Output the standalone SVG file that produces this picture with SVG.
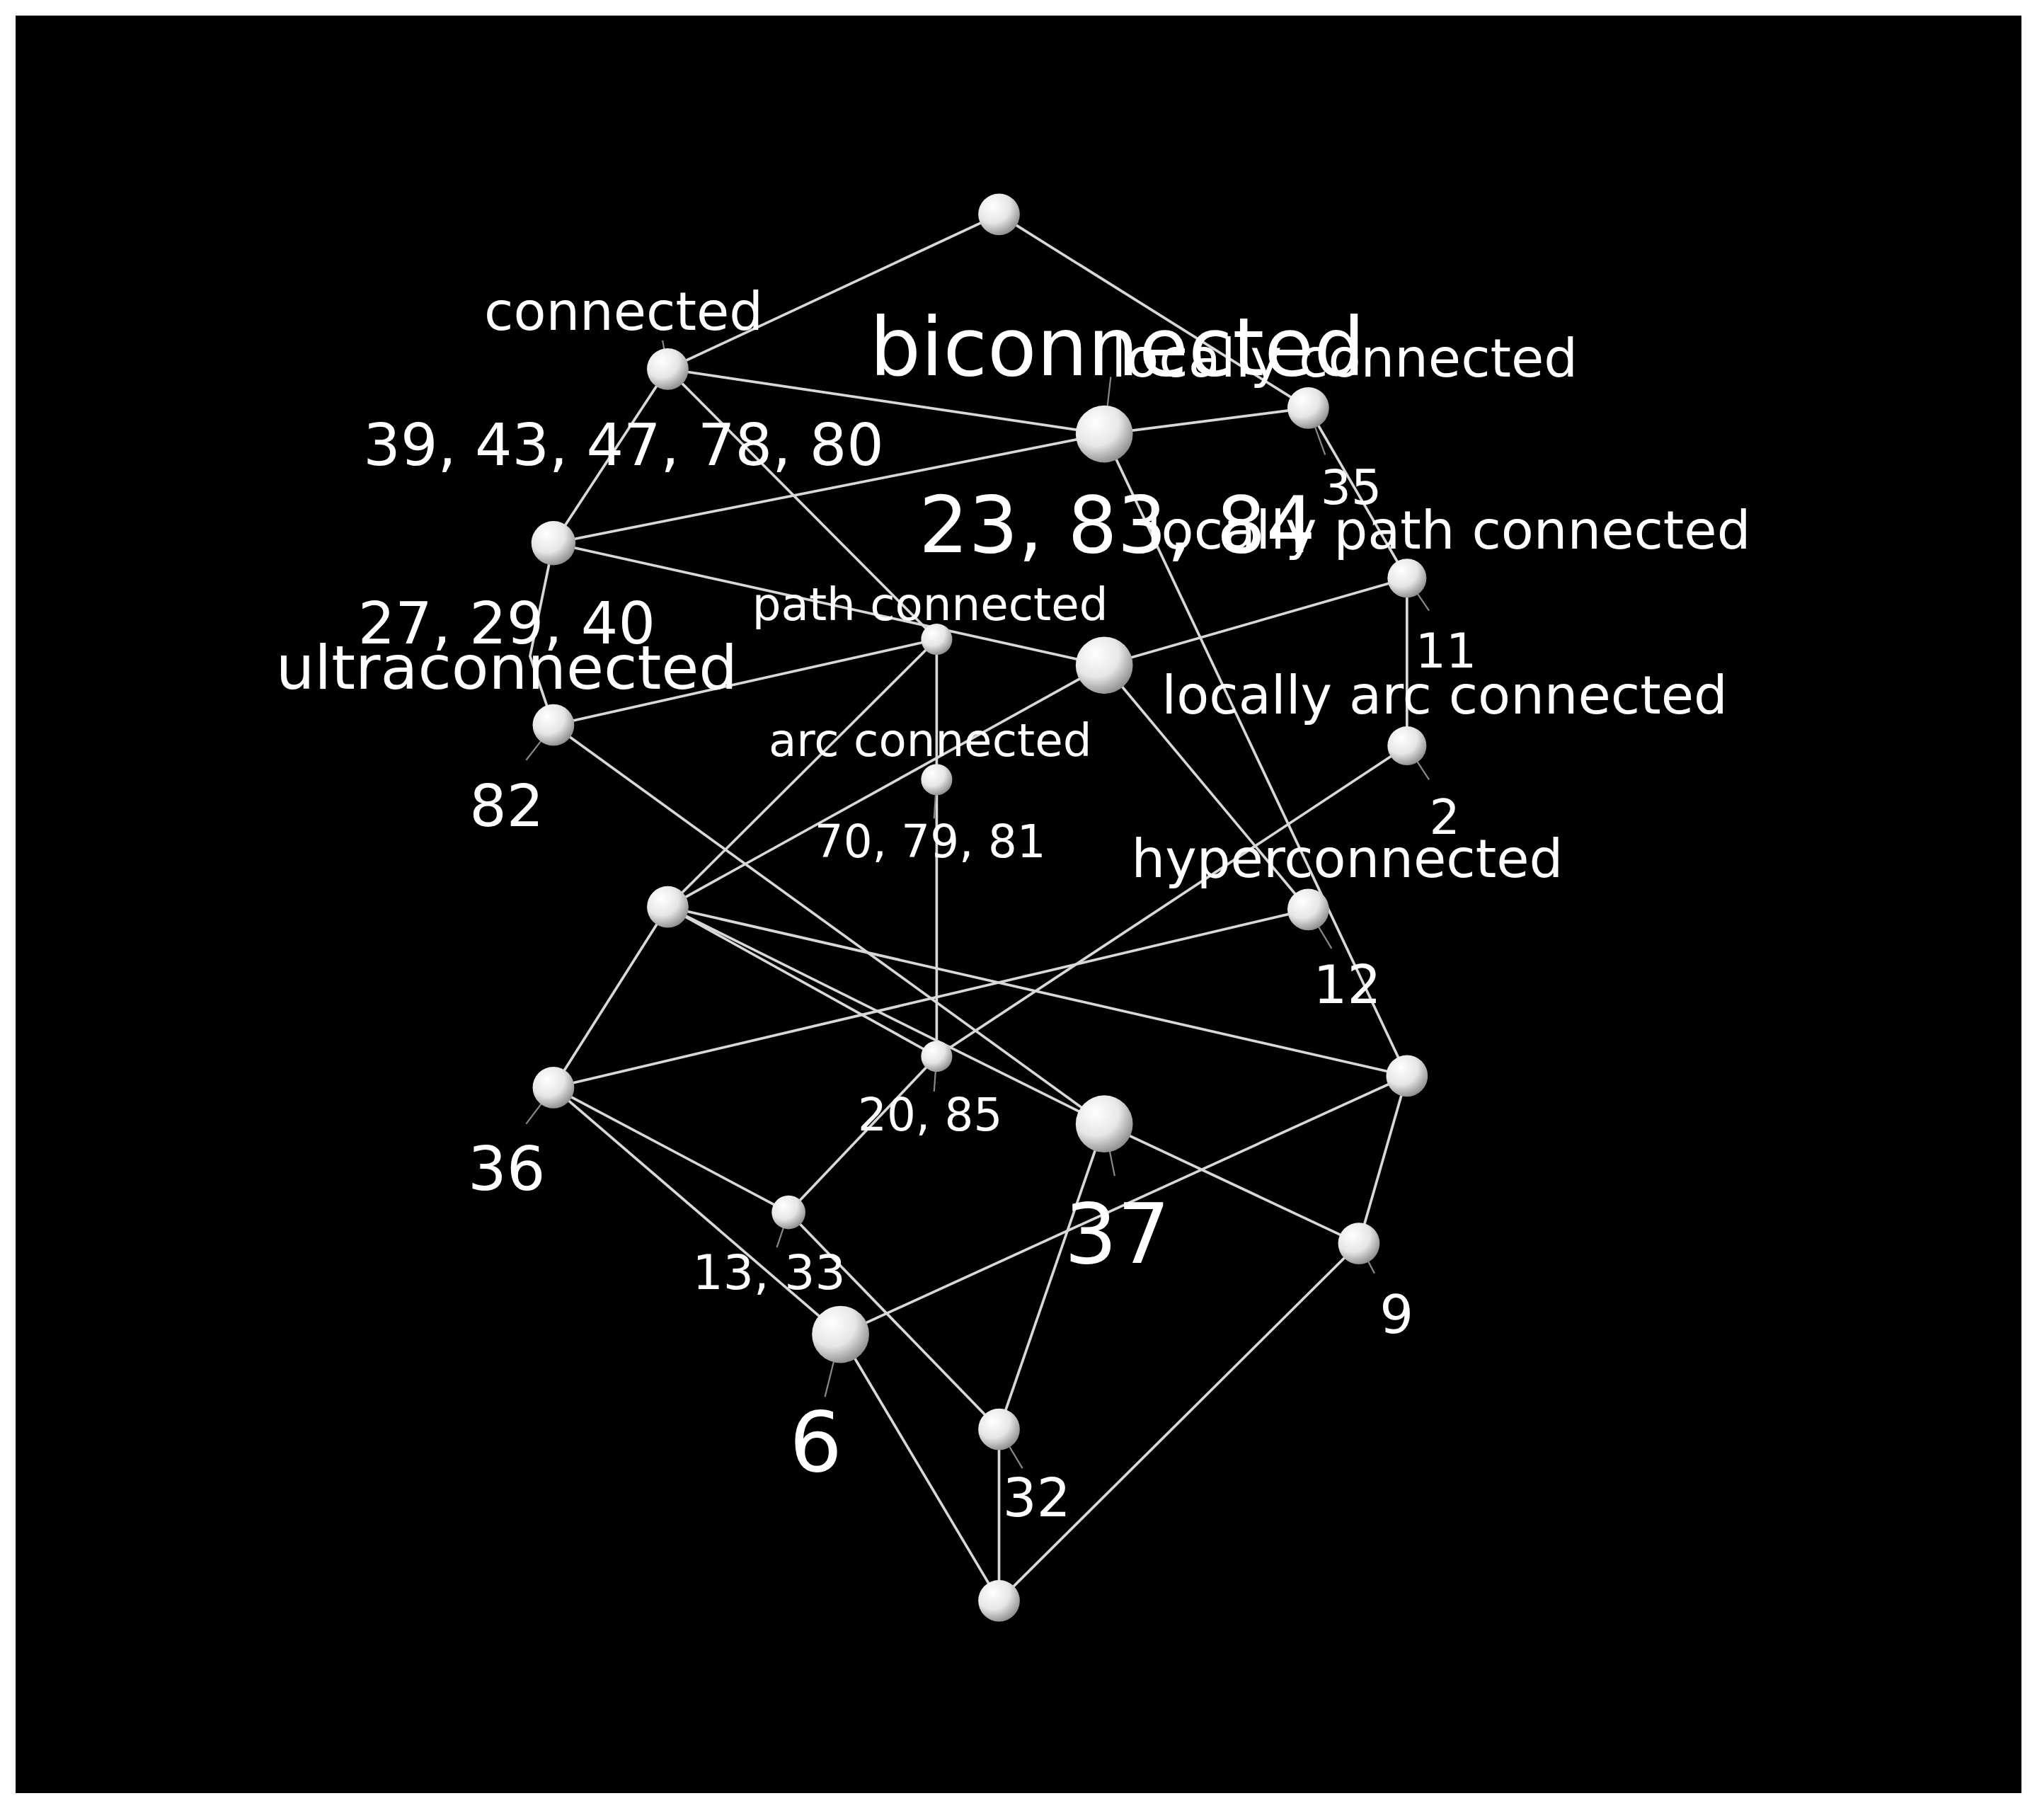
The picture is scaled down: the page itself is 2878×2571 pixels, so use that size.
<svg xmlns="http://www.w3.org/2000/svg" width="2878" height="2571" viewBox="0 0 2878 2571">
<defs>
<radialGradient id="sph" cx="0.35" cy="0.3" r="0.75">
<stop offset="0" stop-color="#ffffff"/><stop offset="0.55" stop-color="#e6e6e6"/><stop offset="1" stop-color="#8a8a8a"/>
</radialGradient>
</defs>
<style>
.e{stroke:#d8d8d8;stroke-width:2;fill:none}
.l{stroke:#888;stroke-width:1.2;fill:none}
.n{fill:url(#sph)}
text{fill:#ffffff;font-family:"DejaVu Sans",sans-serif;text-anchor:middle}
</style>
<rect width="2878" height="2571" fill="#ffffff"/>
<g transform="scale(1.8355)">
<rect x="12" y="12" width="1544" height="1368" fill="#000"/>
<g id="edges">
<line class="e" x1="769" y1="165" x2="514" y2="284"/>
<line class="e" x1="769" y1="165" x2="1007" y2="314"/>
<line class="e" x1="514" y1="284" x2="850" y2="334"/>
<line class="e" x1="514" y1="284" x2="426" y2="418"/>
<line class="e" x1="514" y1="284" x2="721" y2="492"/>
<line class="e" x1="850" y1="334" x2="1007" y2="314"/>
<line class="e" x1="850" y1="334" x2="426" y2="418"/>
<line class="e" x1="850" y1="334" x2="1083" y2="828"/>
<line class="e" x1="1007" y1="314" x2="1083" y2="445"/>
<line class="e" x1="426" y1="418" x2="850" y2="512"/>
<path class="e" d="M426 418 L408 505 L426 558"/>
<line class="e" x1="1083" y1="445" x2="1083" y2="574"/>
<line class="e" x1="1083" y1="445" x2="850" y2="512"/>
<line class="e" x1="721" y1="492" x2="426" y2="558"/>
<line class="e" x1="721" y1="492" x2="721" y2="600"/>
<line class="e" x1="721" y1="492" x2="514" y2="698"/>
<line class="e" x1="850" y1="512" x2="514" y2="698"/>
<line class="e" x1="850" y1="512" x2="1007" y2="700"/>
<line class="e" x1="426" y1="558" x2="850" y2="865"/>
<line class="e" x1="1083" y1="574" x2="721" y2="813"/>
<line class="e" x1="721" y1="600" x2="721" y2="813"/>
<line class="e" x1="514" y1="698" x2="426" y2="837"/>
<line class="e" x1="514" y1="698" x2="1083" y2="828"/>
<line class="e" x1="514" y1="698" x2="721" y2="813"/>
<line class="e" x1="514" y1="698" x2="850" y2="865"/>
<line class="e" x1="1007" y1="700" x2="426" y2="837"/>
<line class="e" x1="1083" y1="828" x2="1046" y2="957"/>
<line class="e" x1="1083" y1="828" x2="647" y2="1027"/>
<line class="e" x1="426" y1="837" x2="607" y2="933"/>
<line class="e" x1="426" y1="837" x2="647" y2="1027"/>
<line class="e" x1="607" y1="933" x2="769" y2="1100"/>
<line class="e" x1="721" y1="813" x2="607" y2="933"/>
<line class="e" x1="850" y1="865" x2="1046" y2="957"/>
<line class="e" x1="850" y1="865" x2="769" y2="1100"/>
<line class="e" x1="647" y1="1027" x2="769" y2="1232"/>
<line class="e" x1="769" y1="1100" x2="769" y2="1232"/>
<line class="e" x1="1046" y1="957" x2="769" y2="1232"/>
</g>
<g id="leaders">
<line class="l" x1="514" y1="284" x2="510" y2="262"/>
<line class="l" x1="850" y1="334" x2="855" y2="290"/>
<line class="l" x1="1007" y1="314" x2="1020" y2="350"/>
<line class="l" x1="1083" y1="445" x2="1100" y2="470"/>
<line class="l" x1="1083" y1="574" x2="1100" y2="600"/>
<line class="l" x1="1007" y1="700" x2="1025" y2="730"/>
<line class="l" x1="426" y1="558" x2="405" y2="585"/>
<line class="l" x1="426" y1="837" x2="405" y2="865"/>
<line class="l" x1="607" y1="933" x2="598" y2="960"/>
<line class="l" x1="721" y1="813" x2="719" y2="840"/>
<line class="l" x1="850" y1="865" x2="858" y2="905"/>
<line class="l" x1="1046" y1="957" x2="1058" y2="980"/>
<line class="l" x1="647" y1="1027" x2="635" y2="1075"/>
<line class="l" x1="769" y1="1100" x2="787" y2="1130"/>
<line class="l" x1="721" y1="600" x2="719" y2="630"/>
</g>
<g id="top"><circle class="n" cx="769" cy="165" r="16"/></g>
<g id="connected"><circle class="n" cx="514" cy="284" r="16"/><text x="480" y="254" font-size="41">connected</text></g>
<g id="biconnected"><circle class="n" cx="850" cy="334" r="22"/><text x="860" y="289" font-size="62">biconnected</text><text x="860" y="425" font-size="60">23, 83, 84</text></g>
<g id="locallyconnected"><circle class="n" cx="1007" cy="314" r="16"/><text x="1035" y="290" font-size="41">locally connected</text><text x="1040" y="388" font-size="37">35</text></g>
<g id="n39"><circle class="n" cx="426" cy="418" r="17"/><text x="480" y="358" font-size="45">39, 43, 47, 78, 80</text><text x="390" y="495" font-size="45">27, 29, 40</text></g>
<g id="lpc"><circle class="n" cx="1083" cy="445" r="15"/><text x="1115" y="422" font-size="41">locally path connected</text><text x="1113" y="514" font-size="37">11</text></g>
<g id="pathconnected"><circle class="n" cx="721" cy="492" r="12"/><text x="716" y="477" font-size="35">path connected</text></g>
<g id="n850"><circle class="n" cx="850" cy="512" r="22"/></g>
<g id="ultraconnected"><circle class="n" cx="426" cy="558" r="16"/><text x="390" y="530" font-size="47">ultraconnected</text><text x="390" y="636" font-size="45">82</text></g>
<g id="lac"><circle class="n" cx="1083" cy="574" r="15"/><text x="1112" y="549" font-size="41">locally arc connected</text><text x="1112" y="642" font-size="37">2</text></g>
<g id="arcconnected"><circle class="n" cx="721" cy="600" r="12"/><text x="716" y="582" font-size="35">arc connected</text><text x="716" y="660" font-size="35">70, 79, 81</text></g>
<g id="n514"><circle class="n" cx="514" cy="698" r="16"/></g>
<g id="hyperconnected"><circle class="n" cx="1007" cy="700" r="16"/><text x="1037" y="675" font-size="41">hyperconnected</text><text x="1037" y="772" font-size="41">12</text></g>
<g id="n36"><circle class="n" cx="426" cy="837" r="16"/><text x="390" y="916" font-size="47">36</text></g>
<g id="n20"><circle class="n" cx="721" cy="813" r="12"/><text x="716" y="870" font-size="35">20, 85</text></g>
<g id="n1083"><circle class="n" cx="1083" cy="828" r="16"/></g>
<g id="n37"><circle class="n" cx="850" cy="865" r="22"/><text x="860" y="972" font-size="64">37</text></g>
<g id="n13"><circle class="n" cx="607" cy="933" r="13"/><text x="592" y="992" font-size="37">13, 33</text></g>
<g id="n9"><circle class="n" cx="1046" cy="957" r="16"/><text x="1075" y="1026" font-size="41">9</text></g>
<g id="n6"><circle class="n" cx="647" cy="1027" r="22"/><text x="628" y="1132" font-size="64">6</text></g>
<g id="n32"><circle class="n" cx="769" cy="1100" r="16"/><text x="798" y="1167" font-size="41">32</text></g>
<g id="bottom"><circle class="n" cx="769" cy="1232" r="16"/></g>
</g>
</svg>
